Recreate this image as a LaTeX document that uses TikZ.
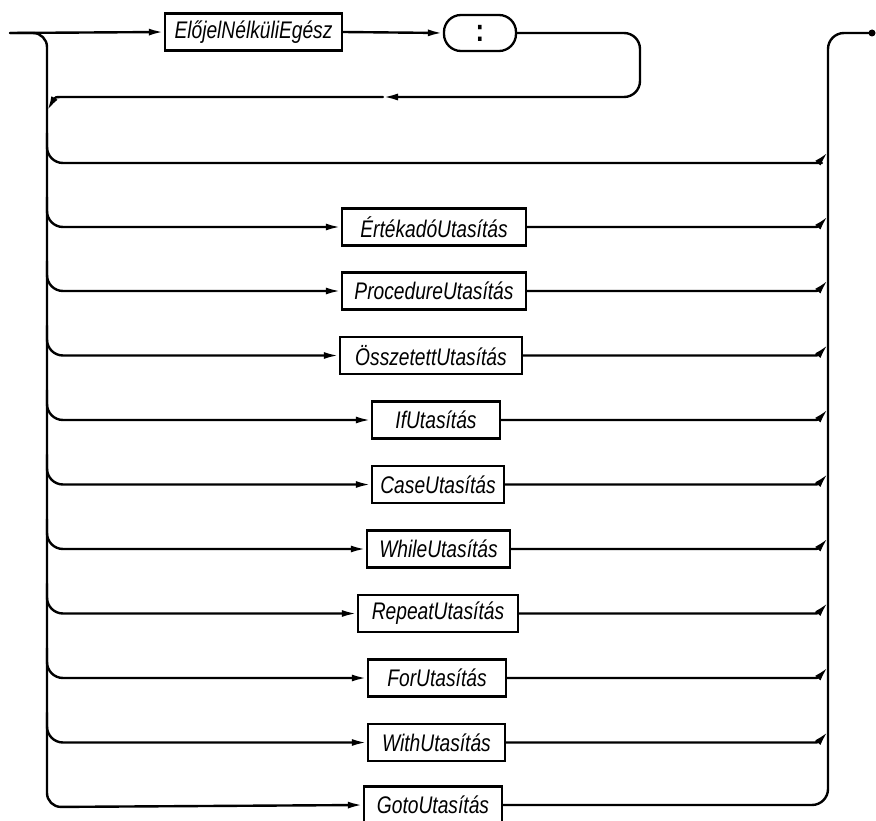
\documentclass[tikz,border=0pt]{standalone}
\usepackage{fontspec}
\newfontfamily\synfont[FakeStretch=0.8]{Liberation Sans}
\usetikzlibrary{arrows.meta}
\begin{document}
\begin{tikzpicture}[x=1pt,y=-1pt,
  line/.style={line width=2.4pt, line cap=round, line join=round},
  tip/.style={-{Latex[length=15pt,width=7pt]}},
  nt/.style={draw, line width=2.3pt, minimum height=37pt, inner sep=0pt,
    font=\synfont\itshape\fontsize{24}{26}\selectfont},
  term/.style={draw, line width=2.3pt, rounded corners=17pt, minimum width=72pt,
    minimum height=36pt, inner sep=0pt, font=\synfont\bfseries\fontsize{32}{34}\selectfont}]
\useasboundingbox (0,0) rectangle (876,821);

% label part before the statement
\node[nt, minimum width=177pt] (E) at (253.5,32) {ElőjelNélküliEgész};
\node[term] (C) at (480,33) {:};

\coordinate (in) at (10,33);
\coordinate (lb) at (47,807);
\coordinate (rt) at (828,33);
\coordinate (out) at (872,33);
\coordinate (lpb) at (640,97);
\coordinate (back) at (383,97);
\coordinate (bk1) at (66,97);
\coordinate (bk2) at (47,111);

% statement alternatives
\node[nt, minimum width=138pt] (G) at (433,805) {GotoUtasítás};
\foreach \y/\n/\t/\w/\cx in {
  227/a/ÉrtékadóUtasítás/184/434,
  291/b/ProcedureUtasítás/184/434,
  355.5/c/ÖsszetettUtasítás/182/431,
  420/d/IfUtasítás/128/436,
  484.5/e/CaseUtasítás/132/438,
  549/f/WhileUtasítás/143/438.5,
  613.5/g/RepeatUtasítás/160/438,
  678/h/ForUtasítás/138/437,
  742.5/i/WithUtasítás/137/436.5}{
  \node[nt, minimum width=\w pt] (B\n) at (\cx,\y) {\t};
  \coordinate (L\n) at (47,\y-30);
  \coordinate (R\n) at (806,\y);
  \coordinate (M\n) at (828,\y-11);
  \draw[line,tip,rounded corners=16pt] (L\n) |- (B\n.west);
  \draw[line,tip] (B\n.east) -- (R\n) .. controls (818,\y) .. (M\n);
}

% empty statement
\coordinate (L0) at (47,133);
\coordinate (R0) at (806,163);
\coordinate (M0) at (828,152);
\draw[line,tip,rounded corners=16pt] (L0) |- (R0) [sharp corners] .. controls (818,163) .. (M0);

% main line, label loop and rails
\draw[line,tip] (in) -- (E.west);
\draw[line,tip] (E.east) -- (C.west);
\draw[line,tip,rounded corners=16pt] (C.east) -| (lpb) -- (back);
\draw[line,tip] (back) -- (bk1) .. controls (55,97) .. (bk2);
\draw[line,tip,rounded corners=14pt] (in) -| (lb) -- (G.west);
\draw[line,rounded corners=16pt] (G.east) -| (rt) -- (out);
\fill (out) circle (3.5pt);
\end{tikzpicture}
\end{document}
